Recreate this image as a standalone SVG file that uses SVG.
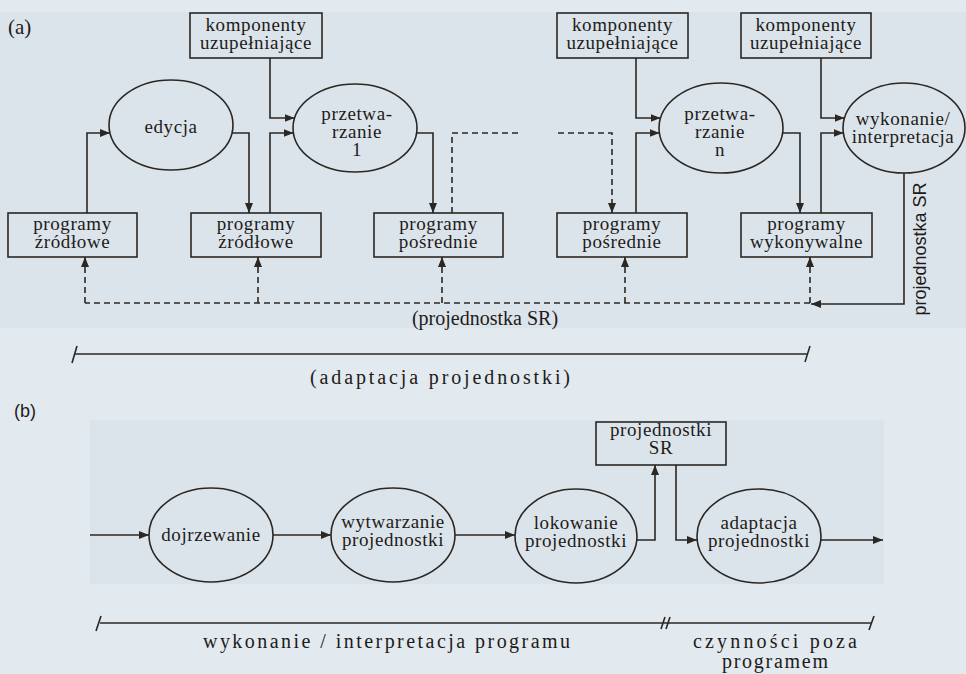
<svg xmlns="http://www.w3.org/2000/svg" width="966" height="674" viewBox="0 0 966 674">
<style>
.t{font-family:"Liberation Serif","Times New Roman",serif;font-size:19px;letter-spacing:0.6px;fill:#1e1b18;text-anchor:middle}
.box{fill:none;stroke:#2b2723;stroke-width:1.6}
.ell{fill:none;stroke:#2b2723;stroke-width:1.6}
.c{fill:none;stroke:#2b2723;stroke-width:1.6}
.a{marker-end:url(#ah)}
.d{stroke-dasharray:6 4}
.sp{font-family:"Liberation Serif","Times New Roman",serif;font-size:20px;fill:#1e1b18}
</style>
<defs>
<marker id="ah" markerUnits="userSpaceOnUse" markerWidth="11" markerHeight="8" refX="10" refY="4" orient="auto">
<path d="M0,0 L10,4 L0,8 z" fill="#2b2723"/>
</marker>
</defs>
<rect x="0" y="0" width="966" height="674" fill="#e2e9ef"/>
<rect x="0" y="12" width="966" height="316" fill="#dce4eb"/>
<rect x="90" y="420" width="794" height="164" fill="#dce4eb"/>

<text x="8" y="34" class="t" style="text-anchor:start;font-size:21px;letter-spacing:0">(a)</text>
<text x="14" y="417" style="font-family:'Liberation Sans',Arial,sans-serif;font-size:18px;fill:#1e1b18">(b)</text>

<g id="komp1"><rect x="190" y="13" width="132" height="45" class="box"/><text class="t" x="256" y="31">komponenty</text><text class="t" x="256" y="49">uzupełniające</text></g>
<g id="komp2"><rect x="557" y="13" width="131" height="45" class="box"/><text class="t" x="622.5" y="31">komponenty</text><text class="t" x="622.5" y="49">uzupełniające</text></g>
<g id="komp3"><rect x="741" y="13" width="130" height="45" class="box"/><text class="t" x="806" y="31">komponenty</text><text class="t" x="806" y="49">uzupełniające</text></g>

<g id="edycja"><ellipse cx="171" cy="125" rx="62" ry="45" class="ell"/><text class="t" x="171" y="133">edycja</text></g>
<g id="przetw1"><ellipse cx="355" cy="128" rx="62" ry="44" class="ell"/><text class="t" x="357" y="120">przetwa-</text><text class="t" x="357" y="138">rzanie</text><text class="t" x="357" y="156">1</text></g>
<g id="przetwn"><ellipse cx="721" cy="128" rx="62" ry="45" class="ell"/><text class="t" x="720" y="120">przetwa-</text><text class="t" x="720" y="138">rzanie</text><text class="t" x="720" y="156">n</text></g>
<g id="wykon"><ellipse cx="904" cy="128" rx="61" ry="45" class="ell"/><text class="t" x="903" y="125">wykonanie/</text><text class="t" x="903" y="143">interpretacja</text></g>

<g id="zrodl1"><rect x="8" y="213" width="129" height="44" class="box"/><text class="t" x="72.5" y="230">programy</text><text class="t" x="72.5" y="248">źródłowe</text></g>
<g id="zrodl2"><rect x="191" y="213" width="130" height="44" class="box"/><text class="t" x="256" y="230">programy</text><text class="t" x="256" y="248">źródłowe</text></g>
<g id="posr1"><rect x="374" y="213" width="129" height="44" class="box"/><text class="t" x="438.5" y="230">programy</text><text class="t" x="438.5" y="248">pośrednie</text></g>
<g id="posr2"><rect x="557" y="213" width="130" height="44" class="box"/><text class="t" x="622" y="230">programy</text><text class="t" x="622" y="248">pośrednie</text></g>
<g id="wykonywalne"><rect x="741" y="213" width="131" height="44" class="box"/><text class="t" x="806.5" y="230">programy</text><text class="t" x="806.5" y="248">wykonywalne</text></g>

<g id="dojrz"><ellipse cx="211" cy="535" rx="62" ry="47" class="ell"/><text class="t" x="211" y="541">dojrzewanie</text></g>
<g id="wytw"><ellipse cx="393" cy="535" rx="62" ry="47" class="ell"/><text class="t" x="393" y="528">wytwarzanie</text><text class="t" x="393" y="546">projednostki</text></g>
<g id="lokow"><ellipse cx="576" cy="536" rx="61" ry="47" class="ell"/><text class="t" x="576" y="529">lokowanie</text><text class="t" x="576" y="547">projednostki</text></g>
<g id="adapt"><ellipse cx="759" cy="536" rx="62" ry="47" class="ell"/><text class="t" x="759" y="529">adaptacja</text><text class="t" x="759" y="547">projednostki</text></g>
<g id="projSR"><rect x="596" y="422" width="130" height="43" class="box"/><text class="t" x="661" y="436">projednostki</text><text class="t" x="661" y="454">SR</text></g>

<g id="connectors">
<path class="c a" d="M87,213 V133 H110"/>
<path class="c a" d="M232,133 H249 V213"/>
<path class="c a" d="M270,58 V118 H294.5"/>
<path class="c a" d="M270,213 V133 H293.5"/>
<path class="c a" d="M416.5,133 H433 V213"/>
<path class="c d" d="M452,213 V133 H520"/>
<path class="c d a" d="M558,133 H612 V213"/>
<path class="c a" d="M636,58 V118 H660.5"/>
<path class="c a" d="M636,213 V133 H659.5"/>
<path class="c a" d="M782.5,133 H800 V213"/>
<path class="c a" d="M821,58 V118 H844.5"/>
<path class="c a" d="M821,213 V133 H843.5"/>
<path class="c a" d="M904,173 V304 H811"/>
<path class="c d" d="M810,303 H85"/>
<path class="c d a" d="M85,303 V257"/>
<path class="c d a" d="M258,303 V257"/>
<path class="c d a" d="M442,303 V257"/>
<path class="c d a" d="M625,303 V257"/>
<path class="c d a" d="M810,303 V257"/>
<path class="c a" d="M90,535 H149"/>
<path class="c a" d="M273,535 H331"/>
<path class="c a" d="M455,535 H515"/>
<path class="c a" d="M637,540 H655 V465"/>
<path class="c a" d="M676,465 V540 H697"/>
<path class="c a" d="M821,540 H883"/>
</g>

<text x="921" y="249" transform="rotate(-90 921 249)" style="font-family:'Liberation Sans',Arial,sans-serif;font-size:18px;fill:#1e1b18;text-anchor:middle;dominant-baseline:middle">projednostka SR</text>
<text class="t" x="485" y="325" style="letter-spacing:0;font-size:20px">(projednostka SR)</text>

<g id="brackets" class="c">
<path d="M75,354 H808"/>
<path d="M72,363 L77,346"/>
<path d="M805,362 L810,346"/>
<path d="M100,623 H872"/>
<path d="M96,631 L101,616"/>
<path d="M661,629 L665,617"/>
<path d="M666,629 L670,617"/>
<path d="M869,630 L874,616"/>
</g>
<text class="sp" x="310" y="384" textLength="260" lengthAdjust="spacing">(adaptacja projednostki)</text>
<text class="sp" x="203" y="648" textLength="367" lengthAdjust="spacing">wykonanie / interpretacja programu</text>
<text class="sp" x="693" y="648" textLength="164" lengthAdjust="spacing">czynności poza</text>
<text class="sp" x="722" y="668" textLength="106" lengthAdjust="spacing">programem</text>
</svg>
